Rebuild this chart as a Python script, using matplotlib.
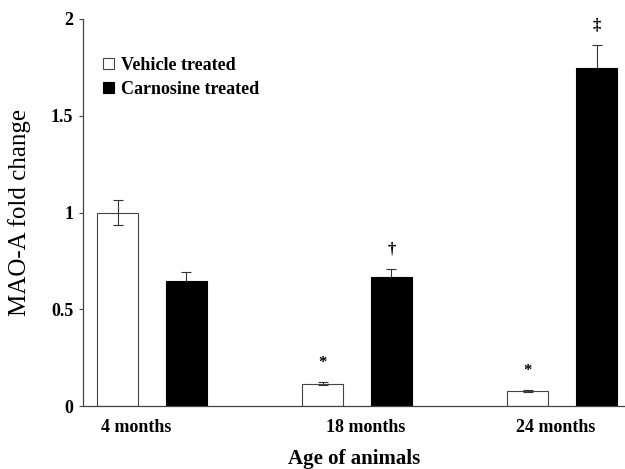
import matplotlib.pyplot as plt
import numpy as np

plt.rcParams['font.family'] = ['Liberation Serif', 'DejaVu Serif']

ages = ['4 months', '18 months', '24 months']
vehicle = [1.0, 0.115, 0.076]
vehicle_err = [0.067, 0.008, 0.005]
carnosine = [0.644, 0.667, 1.749]
carnosine_err = [0.046, 0.043, 0.118]

# significance marks: (group, series, symbol)
marks = [(1, 'vehicle', '*'), (1, 'carnosine', '\u2020'),
         (2, 'vehicle', '*'), (2, 'carnosine', '\u2021')]

x = np.arange(len(ages))
w = 0.2
off = 0.168

fig = plt.figure(figsize=(6.25, 4.69), dpi=100)
ax = fig.add_axes([0.1328, 0.1343, 0.8672, 0.8252])

ekw = dict(fmt='none', ecolor='#333333', elinewidth=0.8, capsize=3.5, capthick=0.8)
ax.bar(x - off, vehicle, w, color='white', edgecolor='#444444', linewidth=0.8,
       label='Vehicle treated', zorder=2)
ax.bar(x + off, carnosine, w, color='black', edgecolor='black', linewidth=0.8,
       label='Carnosine treated', zorder=2)
ax.errorbar(x - off, vehicle, yerr=vehicle_err, zorder=3, **ekw)
ax.errorbar(x + off, carnosine, yerr=carnosine_err, zorder=1, **ekw)

for g, s, sym in marks:
    if s == 'vehicle':
        xx, top = x[g] - off, vehicle[g] + vehicle_err[g]
    else:
        xx, top = x[g] + off, carnosine[g] + carnosine_err[g]
    ax.annotate(sym, (xx, top), xytext=(0, 14), textcoords='offset points',
                ha='center', va='center', fontsize=12, fontweight='bold')

ax.set_xlim(-0.3366, 2.307)
ax.set_ylim(0, 2)
ax.set_yticks([0, 0.5, 1, 1.5, 2])
ax.set_yticklabels(['0', '0.5', '1', '1.5', '2'])
ax.set_xticks(x + np.array([-0.078, 0.044, -0.029]))
ax.set_xticklabels(ages)

for sp in ['top', 'right']:
    ax.spines[sp].set_visible(False)
for sp in ['left', 'bottom']:
    ax.spines[sp].set_color('#444444')
    ax.spines[sp].set_linewidth(0.9)

ax.tick_params(axis='y', length=3, width=0.8, color='#444444', pad=4,
               labelsize=13)
ax.tick_params(axis='x', length=0, pad=9, labelsize=13)
for lab in ax.get_xticklabels() + ax.get_yticklabels():
    lab.set_fontweight('bold')

ax.set_ylabel('MAO-A fold change', fontsize=18, labelpad=14)
ax.set_xlabel('Age of animals', fontsize=15, fontweight='bold', labelpad=10)

leg = ax.legend(loc='upper left', bbox_to_anchor=(0.037, 0.902), frameon=False,
                borderpad=0, borderaxespad=0, handlelength=0.6, handleheight=0.6,
                handletextpad=0.4, labelspacing=0.38,
                prop={'size': 13, 'weight': 'bold'})

fig.savefig('out.png', dpi=100)
